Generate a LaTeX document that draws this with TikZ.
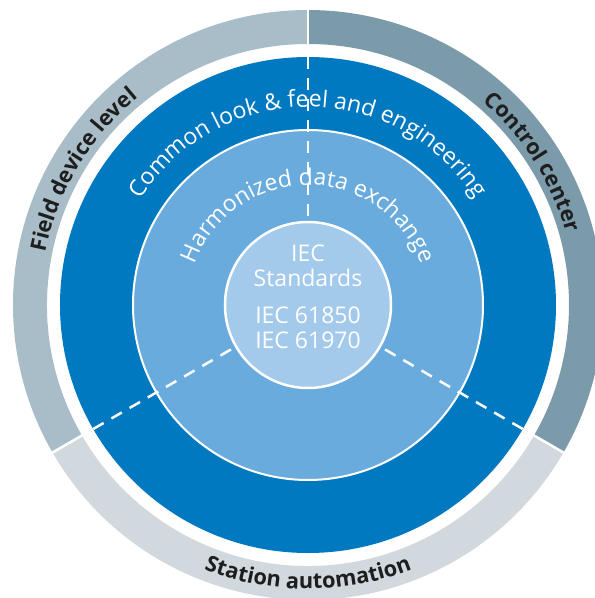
\documentclass[tikz,border=0pt]{standalone}
\usepackage{fontspec}
\setmainfont{Open Sans}
\usetikzlibrary{decorations.text}
\definecolor{fieldc}{HTML}{A8BDC8}
\definecolor{controlc}{HTML}{7B9BAB}
\definecolor{stationc}{HTML}{D1D9DF}
\definecolor{darkblue}{HTML}{0079C1}
\definecolor{midblue}{HTML}{6AABDE}
\definecolor{lightblue}{HTML}{A3C9EB}
\definecolor{ringtext}{HTML}{1E1E1E}
\newcommand{\ringfont}{\fontsize{21.8}{21.8}\selectfont\bfseries\color{ringtext}}
\newcommand{\innerfont}{\fontsize{23}{23}\selectfont\color{white}}
\tikzset{
  circ/.style={circle, inner sep=0pt, outer sep=0pt},
  dashline/.style={draw=white, line width=2.5pt, dash pattern=on 12pt off 9pt},
  divider/.style={draw=white, line width=2.5pt},
  arctext/.style={decorate, decoration={text along path, text align=center, text={#1}}}
}
\begin{document}
\begin{tikzpicture}[x=1pt,y=1pt]
\useasboundingbox (-308,-293) rectangle (287,305);
\clip (-308,-293) rectangle (287,305);
\fill[white] (-308,-293) rectangle (287,305);
% outer ring segments
\fill[fieldc] (90:295) arc[start angle=90, end angle=210, radius=295] -- (210:261) arc[start angle=210, end angle=90, radius=261] -- cycle;
\fill[controlc] (-30:295) arc[start angle=-30, end angle=90, radius=295] -- (90:261) arc[start angle=90, end angle=-30, radius=261] -- cycle;
\fill[stationc] (210:295) arc[start angle=210, end angle=330, radius=295] -- (330:261) arc[start angle=330, end angle=210, radius=261] -- cycle;
\draw[divider] (90:255) -- (90:300);
\draw[divider] (210:255) -- (210:300);
\draw[divider] (330:255) -- (330:300);
% circles
\node[circ, fill=darkblue, minimum size=496pt] (dark) at (0,0) {};
\node[circ, fill=midblue, draw=white, line width=2pt, minimum size=350pt] (mid) at (0,0) {};
\node[circ, fill=lightblue, draw=white, line width=2.5pt, minimum size=166pt] (core) at (0,0) {};
% dashed separators
\draw[dashline] (dark.90) -- (core.90);
\draw[dashline] (dark.210) -- (core.210);
\draw[dashline] (dark.330) -- (core.330);
% core text
\node[align=center, font=\innerfont, inner sep=0pt] (std) at (0,8) {IEC\\[2pt]Standards\\[14pt]IEC 61850\\[2pt]IEC 61970};
% arc texts
\path[arctext={|\innerfont|Common look {\&} feel and engineering}] (175:198) arc[start angle=175, end angle=5, radius=198];
\path[arctext={|\innerfont|Harmonized data exchange}] (175:120) arc[start angle=175, end angle=5, radius=120];
\path[arctext={|\ringfont|Field device level}] (196:268) arc[start angle=196, end angle=102, radius=268];
\path[arctext={|\ringfont|Control center}] (75:268) arc[start angle=75, end angle=-10, radius=268];
\path[arctext={|\ringfont|Station automation}] (225:284) arc[start angle=225, end angle=315, radius=284];
\end{tikzpicture}
\end{document}
